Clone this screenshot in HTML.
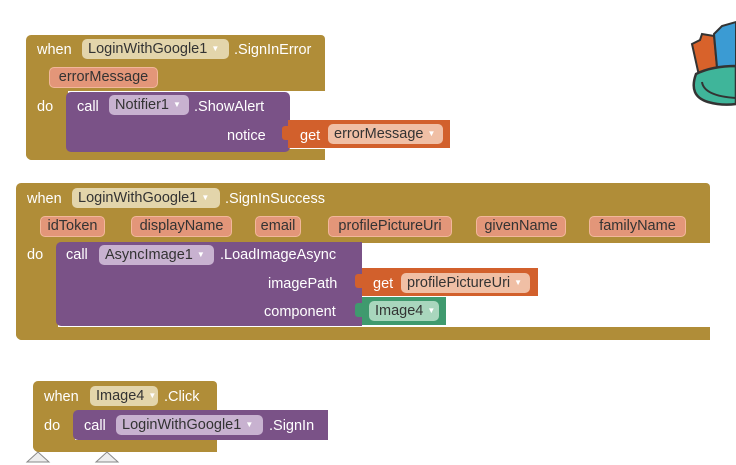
<!DOCTYPE html>
<html><head><meta charset="utf-8"><style>
body{margin:0;width:736px;height:465px;background:#fff;position:relative;overflow:hidden;font-family:"Liberation Sans",sans-serif;}
div{position:absolute;box-sizing:border-box;}
.g{background:#b08d38;}
.p{background:#7a5287;border-radius:5px;}
.o{background:#d2602c;}
.gr{background:#3f9a6e;}
.t{color:#fff;font-size:14.5px;line-height:20px;white-space:nowrap;margin-top:1px;}
.f{height:20px;border-radius:5px;font-size:14.5px;line-height:20px;color:#333;padding-left:6px;white-space:nowrap;}
.fg{background:#e3d5ab;}
.fp{background:#c8b2d0;}
.fo{background:#f0bfa5;}
.fgr{background:#a9d6bd;}
.pm{height:21px;border-radius:5px;background:#e39679;border:1.5px solid #f2b79b;font-size:14.5px;line-height:18px;color:#333;text-align:center;white-space:nowrap;}
.ar{font-size:8px;color:#fff;margin-left:4px;vertical-align:2px;}
</style></head><body>

<!-- Block 1 -->
<div class="g" style="left:26px;top:35px;width:299px;height:56px;border-radius:5px 4px 0 0;"></div>
<div class="g" style="left:26px;top:90px;width:42px;height:70px;border-radius:0 0 0 6px;"></div>
<div class="g" style="left:26px;top:149px;width:299px;height:11px;border-radius:0 0 0 6px;"></div>
<div class="t" style="left:37px;top:39px;">when</div>
<div class="f fg" style="left:82px;top:39px;width:147px;">LoginWithGoogle1<span class="ar">▼</span></div>
<div class="t" style="left:234px;top:39px;">.SignInError</div>
<div class="pm" style="left:49px;top:67px;width:109px;">errorMessage</div>
<div class="t" style="left:37px;top:96px;">do</div>
<div class="p" style="left:66px;top:92px;width:224px;height:60px;"></div>
<div class="t" style="left:77px;top:96px;">call</div>
<div class="f fp" style="left:109px;top:95px;width:80px;">Notifier1<span class="ar">▼</span></div>
<div class="t" style="left:194px;top:96px;">.ShowAlert</div>
<div class="t" style="left:227px;top:125px;">notice</div>
<div class="o" style="left:288px;top:120px;width:162px;height:28px;"></div>
<div class="o" style="left:282px;top:126px;width:8px;height:14px;border-radius:3px 0 0 3px;"></div>
<div class="t" style="left:300px;top:125px;">get</div>
<div class="f fo" style="left:328px;top:124px;width:115px;">errorMessage<span class="ar">▼</span></div>

<!-- Block 2 -->
<div class="g" style="left:16px;top:183px;width:694px;height:60px;border-radius:5px 4px 0 0;"></div>
<div class="g" style="left:16px;top:242px;width:42px;height:98px;border-radius:0 0 0 6px;"></div>
<div class="g" style="left:16px;top:327px;width:694px;height:13px;border-radius:0 0 0 6px;"></div>
<div class="t" style="left:27px;top:188px;">when</div>
<div class="f fg" style="left:72px;top:188px;width:148px;">LoginWithGoogle1<span class="ar">▼</span></div>
<div class="t" style="left:225px;top:188px;">.SignInSuccess</div>
<div class="pm" style="left:40px;top:216px;width:65px;">idToken</div>
<div class="pm" style="left:131px;top:216px;width:101px;">displayName</div>
<div class="pm" style="left:255px;top:216px;width:46px;">email</div>
<div class="pm" style="left:328px;top:216px;width:124px;">profilePictureUri</div>
<div class="pm" style="left:476px;top:216px;width:90px;">givenName</div>
<div class="pm" style="left:589px;top:216px;width:97px;">familyName</div>
<div class="t" style="left:27px;top:244px;">do</div>
<div class="p" style="left:56px;top:242px;width:306px;height:84px;border-radius:5px 0 0 5px;"></div>
<div class="t" style="left:66px;top:244px;">call</div>
<div class="f fp" style="left:99px;top:245px;width:115px;">AsyncImage1<span class="ar">▼</span></div>
<div class="t" style="left:220px;top:244px;">.LoadImageAsync</div>
<div class="t" style="left:268px;top:273px;">imagePath</div>
<div class="t" style="left:264px;top:301px;">component</div>
<div class="o" style="left:362px;top:268px;width:176px;height:28px;"></div>
<div class="o" style="left:355px;top:274px;width:9px;height:14px;border-radius:3px 0 0 3px;"></div>
<div class="t" style="left:373px;top:273px;">get</div>
<div class="f fo" style="left:401px;top:273px;width:129px;">profilePictureUri<span class="ar">▼</span></div>
<div class="gr" style="left:362px;top:297px;width:84px;height:28px;"></div>
<div class="gr" style="left:355px;top:303px;width:9px;height:14px;border-radius:3px 0 0 3px;"></div>
<div class="f fgr" style="left:369px;top:301px;width:70px;">Image4<span class="ar">▼</span></div>

<!-- Block 3 -->
<div class="g" style="left:33px;top:381px;width:184px;height:30px;border-radius:5px 4px 0 0;"></div>
<div class="g" style="left:33px;top:410px;width:42px;height:42px;border-radius:0 0 0 6px;"></div>
<div class="g" style="left:33px;top:440px;width:184px;height:12px;border-radius:0 0 0 6px;"></div>
<div class="t" style="left:44px;top:386px;">when</div>
<div class="f fg" style="left:90px;top:386px;width:68px;">Image4<span class="ar">▼</span></div>
<div class="t" style="left:164px;top:386px;">.Click</div>
<div class="t" style="left:44px;top:415px;">do</div>
<div class="p" style="left:73px;top:410px;width:255px;height:30px;border-radius:5px 0 0 5px;"></div>
<div class="t" style="left:84px;top:415px;">call</div>
<div class="f fp" style="left:116px;top:415px;width:147px;">LoginWithGoogle1<span class="ar">▼</span></div>
<div class="t" style="left:269px;top:415px;">.SignIn</div>

<svg style="position:absolute;left:0;top:0" width="736" height="465">
<polygon points="27,462 38,452 49,462" fill="#eee" stroke="#888"/>
<polygon points="96,462 107,452 118,462" fill="#eee" stroke="#888"/>
<path d="M692,44 L700,40 L702,34 L714,36 L718,78 L700,80 Z" fill="#d8622b" stroke="#333" stroke-width="2"/>
<path d="M714,34 L722,26 L736,22 L736,78 L718,78 Z" fill="#3b9bd3" stroke="#333" stroke-width="2"/>
<path d="M696,74 Q688,96 708,102 Q722,106 736,104 L736,66 Q712,66 696,74 Z" fill="#3fb59a" stroke="#333" stroke-width="2.5"/>
<path d="M702,82 Q704,96 736,98" fill="none" stroke="#333" stroke-width="2"/>
</svg>
</body></html>
